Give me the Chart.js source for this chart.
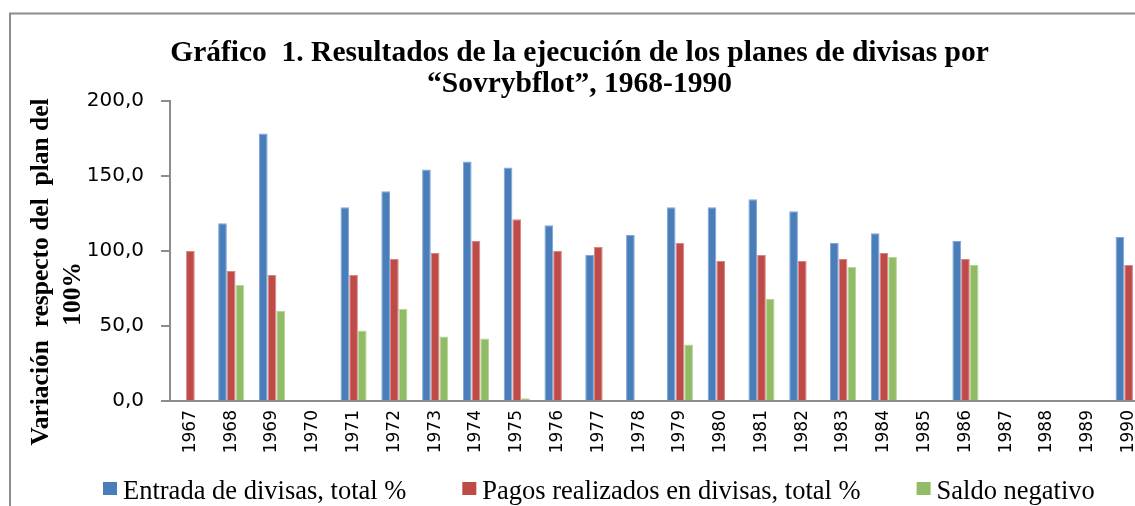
<!DOCTYPE html>
<html><head><meta charset="utf-8">
<script src="https://cdn.jsdelivr.net/npm/chart.js@4.4.0/dist/chart.umd.min.js"></script>
<style>
html,body{margin:0;padding:0;background:#fff;overflow:hidden;width:1135px;height:506px}
#c{display:block}
</style>
</head><body>
<canvas id="c" width="1135" height="506" style="width:1135px;height:506px"></canvas>
<script>
const years = ['1967','1968','1969','1970','1971','1972','1973','1974','1975','1976','1977','1978','1979','1980','1981','1982','1983','1984','1985','1986','1987','1988','1989','1990'];
const entradaDivisas = [null,118.4,178.1,null,129.1,139.7,154.2,159.5,155.6,117.1,97.2,110.5,129.1,129.1,134.4,126.4,105.2,111.8,null,106.5,null,null,null,109.2];
const pagosDivisas   = [99.9,86.6,84.0,null,84.0,94.6,98.6,106.5,121.1,99.9,102.5,null,105.2,93.3,97.2,93.3,94.6,98.6,null,94.6,null,null,null,90.6];
const saldoNegativo  = [null,77.3,60.1,null,46.9,61.4,42.9,41.6,1.8,null,null,null,37.6,null,68.1,null,89.3,95.9,null,90.6,null,null,null,null];
const seriesNames = ['Entrada de divisas, total %','Pagos realizados en divisas, total %','Saldo negativo'];
const yTickValues = [0,50,100,150,200];
const yTickLabels = ['0,0','50,0','100,0','150,0','200,0'];
const titleLines = ['Gráfico  1. Resultados de la ejecución de los planes de divisas por','“Sovrybflot”, 1968-1990'];
const yTitleLines = ['Variación  respecto del  plan del','100%'];

const axisGray = '#8c8c8c';
// the original plot is cropped on the right: its x axis runs on past the page edge
const plotRightEdge = 1149;

const extendX = {
  id: 'extendX',
  afterLayout(chart) {
    const xs = chart.scales.x;
    xs.right = plotRightEdge;
    xs.width = xs.right - xs.left;
    xs.configure();
    chart.chartArea.right = plotRightEdge;
    chart.chartArea.width = plotRightEdge - chart.chartArea.left;
  }
};

const decor = {
  id: 'decor',
  afterDraw(chart) {
    const ctx = chart.ctx;
    const a = chart.chartArea;
    ctx.save();
    // outer chart frame (left and top edges; the rest is cropped)
    ctx.strokeStyle = axisGray; ctx.lineWidth = 2;
    ctx.beginPath(); ctx.moveTo(10, 506); ctx.lineTo(10, 13.5); ctx.lineTo(chart.width + 5, 13.5); ctx.stroke();
    // y axis title (rotated)
    ctx.fillStyle = '#000';
    ctx.font = 'bold 25.5px "Liberation Serif"';
    ctx.textAlign = 'center'; ctx.textBaseline = 'middle';
    const midY = (a.top + a.bottom) / 2;
    const yPos = [[41.5, midY + 21], [73.5, midY + 43]];
    yTitleLines.forEach((t, i) => {
      ctx.save();
      ctx.translate(yPos[i][0], yPos[i][1]);
      ctx.rotate(-Math.PI / 2);
      ctx.fillText(t, 0, 0);
      ctx.restore();
    });
    // legend
    ctx.font = '26.5px "Liberation Serif"';
    ctx.textAlign = 'left'; ctx.textBaseline = 'alphabetic';
    let x = 103;
    chart.data.datasets.forEach(ds => {
      ctx.fillStyle = ds.backgroundColor;
      ctx.fillRect(x, 482, 14, 13);
      ctx.fillStyle = '#000';
      ctx.fillText(ds.label, x + 20, 498.5);
      x += 20 + ctx.measureText(ds.label).width + 56;
    });
    ctx.restore();
  }
};

new Chart(document.getElementById('c'), {
  type: 'bar',
  data: {
    labels: years,
    datasets: [
      {label: seriesNames[0], data: entradaDivisas, backgroundColor: '#4A7EBB', borderColor: '#7FA6D6', borderWidth: 1},
      {label: seriesNames[1], data: pagosDivisas, backgroundColor: '#BE4B48', borderColor: '#D88583', borderWidth: 1},
      {label: seriesNames[2], data: saldoNegativo, backgroundColor: '#8FBC65', borderColor: '#B5D59A', borderWidth: 1}
    ]
  },
  options: {
    responsive: false,
    animation: false,
    datasets: {bar: {categoryPercentage: 0.64, barPercentage: 1.0}},
    layout: {padding: {left: 24, right: 0, top: 0, bottom: 0}},
    plugins: {
      legend: {display: false},
      tooltip: {enabled: false},
      title: {
        display: true,
        text: titleLines,
        color: '#000',
        align: 'center',
        font: {family: '"Liberation Serif"', size: 29.5, weight: 'bold', lineHeight: 1.08},
        padding: {top: 37, bottom: 0}
      }
    },
    scales: {
      x: {
        grid: {display: false, drawTicks: false},
        border: {display: true, color: axisGray, width: 2},
        ticks: {color: '#000', font: {family: '"DejaVu Sans"', size: 17}, minRotation: 90, maxRotation: 90, autoSkip: false, padding: 9},
        afterFit(scale) { scale.height = 105; }
      },
      y: {
        min: 0, max: 200,
        afterBuildTicks(scale) { scale.ticks = yTickValues.map(v => ({value: v})); },
        grid: {drawOnChartArea: false, drawTicks: true, tickLength: 9, color: axisGray, lineWidth: 2},
        border: {display: true, color: axisGray, width: 2},
        ticks: {
          color: '#000', font: {family: '"DejaVu Sans"', size: 20}, padding: 17,
          callback(v) { const i = yTickValues.indexOf(v); return i >= 0 ? yTickLabels[i] : ''; }
        },
        afterFit(scale) { scale.width = 146; }
      }
    }
  },
  plugins: [extendX, decor]
});
</script>
</body></html>
